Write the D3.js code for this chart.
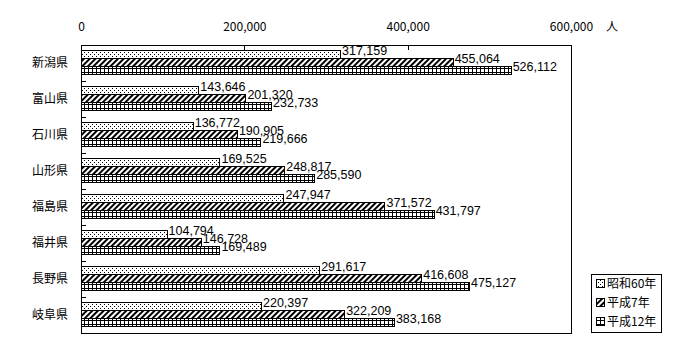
<!DOCTYPE html>
<html><head><meta charset="utf-8">
<script src="https://cdn.jsdelivr.net/npm/d3@7"></script>
<style>
body{margin:0;background:#fff;}
text{font-family:"Noto Sans CJK JP","Noto Sans",sans-serif;font-size:12px;fill:#000;}
text.val{font-family:"Liberation Sans Narrow","Liberation Sans",sans-serif;font-size:12.5px;}
</style></head><body>
<svg id="c" width="700" height="360"></svg>
<script>
const categories = ["新潟県","富山県","石川県","山形県","福島県","福井県","長野県","岐阜県"];
const seriesNames = ["昭和60年","平成7年","平成12年"];
const s1985 = [317159,143646,136772,169525,247947,104794,291617,220397];
const s1995 = [455064,201320,190905,248817,371572,146728,416608,322209];
const s2000 = [526112,232733,219666,285590,431797,169489,475127,383168];
const tickValues = [0,200000,400000,600000];
const unitLabel = "人";

(function(){
const series = [s1985, s1995, s2000];
const patterns = ["pDots","pHatch","pGrid"];

const svg = d3.select("#c");
const defs = svg.append("defs");
const pd = defs.append("pattern").attr("id","pDots").attr("patternUnits","userSpaceOnUse").attr("width",4).attr("height",4);
pd.append("rect").attr("width",4).attr("height",4).attr("fill","#fff");
pd.append("rect").attr("x",0).attr("y",0).attr("width",1).attr("height",1).attr("fill","#000");
pd.append("rect").attr("x",2).attr("y",2).attr("width",1).attr("height",1).attr("fill","#000");
const ph = defs.append("pattern").attr("id","pHatch").attr("patternUnits","userSpaceOnUse").attr("width",4).attr("height",4).attr("patternTransform","rotate(45)");
ph.append("rect").attr("width",4).attr("height",4).attr("fill","#fff");
ph.append("rect").attr("width",2).attr("height",4).attr("fill","#000");
const pg = defs.append("pattern").attr("id","pGrid").attr("patternUnits","userSpaceOnUse").attr("width",4).attr("height",4);
pg.append("rect").attr("width",4).attr("height",4).attr("fill","#fff");
pg.append("rect").attr("width",1).attr("height",4).attr("fill","#000");
pg.append("rect").attr("width",4).attr("height",1).attr("fill","#000");

const L = 81, R = 571, T = 45, B = 333;
const x = d3.scaleLinear().domain([0,600000]).range([L,R]);
const y = d3.scaleBand().domain(categories).range([T,B]).paddingInner(0.3).paddingOuter(0.15);
const fmt = d3.format(",");

svg.append("rect").attr("x",L+0.5).attr("y",T+0.5).attr("width",R-L).attr("height",B-T)
  .attr("fill","none").attr("stroke","#000").attr("stroke-width",1).attr("shape-rendering","crispEdges");

const xAxis = d3.axisTop(x).tickValues(tickValues).tickFormat(fmt).tickSize(0).tickPadding(0);
const gx = svg.append("g").attr("transform",`translate(0,${T})`).call(xAxis);
gx.select(".domain").remove();
gx.selectAll("text").attr("y",-14).attr("font-size","12px").attr("font-family",null);
svg.append("g").selectAll("line").data(tickValues.slice(1,-1)).join("line")
  .attr("x1",d=>Math.round(x(d))+0.5).attr("x2",d=>Math.round(x(d))+0.5)
  .attr("y1",T).attr("y2",T+5).attr("stroke","#000").attr("shape-rendering","crispEdges");
svg.append("text").attr("x",606).attr("y",T-14).text(unitLabel);

const bstep = (B-T)/categories.length;
svg.append("g").selectAll("line").data(d3.range(1,categories.length)).join("line")
  .attr("x1",L).attr("x2",L+5)
  .attr("y1",d=>Math.round(T+d*bstep)+0.5).attr("y2",d=>Math.round(T+d*bstep)+0.5)
  .attr("stroke","#000").attr("shape-rendering","crispEdges");

svg.append("g").selectAll("text").data(categories).join("text")
  .attr("x",68).attr("y",d=>y(d)+y.bandwidth()/2).attr("text-anchor","end").attr("dy","0.35em").text(d=>d);

categories.forEach((c,i)=>{
  const h = Math.round(y.bandwidth()/3);
  const start = Math.floor(y(c) + (y.bandwidth()-3*h)/2) - 1;
  series.forEach((s,k)=>{
    const y0 = start + k*h;
    svg.append("rect").attr("x",L+0.5).attr("y",y0+0.5)
      .attr("width",x(s[i])-L).attr("height",h)
      .attr("fill",`url(#${patterns[k]})`).attr("stroke","#000").attr("shape-rendering","crispEdges");
    svg.append("text").attr("class","val").attr("x",x(s[i])+2).attr("y",y0+h/2-3).attr("dy","0.35em").text(fmt(s[i]));
  });
});

const lg = svg.append("g");
lg.append("rect").attr("x",591.5).attr("y",274.5).attr("width",70).attr("height",58).attr("fill","#fff").attr("stroke","#000").attr("shape-rendering","crispEdges");
seriesNames.forEach((n,k)=>{
  const cy = 284 + k*19;
  lg.append("rect").attr("x",596.5).attr("y",cy-4.5).attr("width",8).attr("height",8).attr("fill",`url(#${patterns[k]})`).attr("stroke","#000").attr("shape-rendering","crispEdges");
  lg.append("text").attr("x",607).attr("y",cy).attr("dy","0.35em").text(n);
});
})();
</script>
</body></html>
